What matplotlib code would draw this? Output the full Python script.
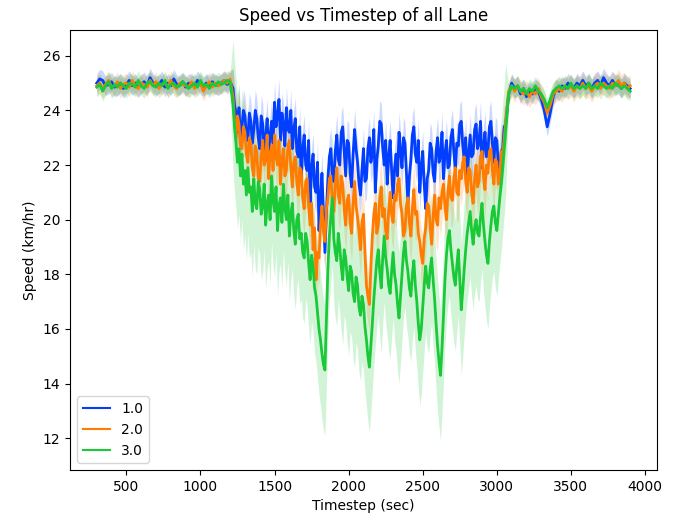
import numpy as np
import matplotlib
matplotlib.use("Agg")
import matplotlib.pyplot as plt
from matplotlib.lines import Line2D

# ---------------- data ----------------
lanes = ["1.0", "2.0", "3.0"]
colors = ["#023eff", "#ff7c00", "#1ac938"]

# free-flow before the jam: 300..1200 s (20 s step)
# congestion: 1220..3060 s (10 s step)
# free-flow after the jam: 3080..3900 s (20 s step)
flat1_t = (300, 1200, 20)
cong_t = (1220, 3060, 10)
flat2_t = (3080, 3900, 20)

blue_flat1 = [25.0, 25.15, 25.1, 24.9, 24.95, 25.05, 24.85, 24.9, 25.0, 24.8,
              24.95, 25.1, 24.9, 25.0, 24.85, 24.95, 25.05, 24.9, 25.2, 25.0,
              24.9, 24.95, 25.1, 24.85, 25.0, 24.9, 25.15, 24.95, 24.9, 25.05,
              24.85, 25.0, 24.95, 24.9, 25.1, 24.95, 24.85, 25.0, 24.9, 25.05,
              24.95, 24.9, 25.0, 25.1, 24.95, 25.05]
blue_cong = [24.8, 24.2, 23.9, 23.2, 24.1, 23.0, 23.4, 24.0, 23.8, 23.1,
             22.9, 23.9, 23.6, 22.8, 23.3, 24.0, 23.7, 23.0, 22.6, 23.8,
             23.5, 22.5, 23.0, 23.7, 22.4, 23.1, 23.6, 22.8, 24.3, 23.4,
             23.8, 24.4, 22.9, 23.9, 23.5, 22.7, 24.1, 23.3, 23.2, 24.0,
             22.6, 23.3, 23.7, 22.5, 22.3, 23.4, 21.4, 22.6, 23.1, 22.0,
             21.8, 22.9, 20.6, 21.9, 22.4, 21.2, 21.0, 22.1, 19.6, 20.8,
             21.7, 20.2, 18.8, 20.3, 21.5, 22.3, 22.6, 21.6, 21.4, 22.5,
             23.1, 22.2, 22.0, 23.2, 23.4, 22.5, 21.6, 22.9, 22.8, 21.7,
             21.2, 22.4, 23.3, 22.6, 22.1, 21.3, 20.9, 21.8, 22.6, 21.4,
             21.5, 22.6, 23.0, 22.1, 22.4, 23.3, 21.0, 22.2, 22.7, 23.6,
             23.5, 22.6, 22.0, 22.9, 21.3, 22.3, 22.9, 21.8, 20.8, 21.9,
             22.4, 21.6, 23.2, 22.5, 21.9, 23.0, 22.8, 21.7, 20.6, 21.6,
             22.2, 23.1, 23.4, 22.4, 22.1, 22.9, 21.0, 21.9, 22.5, 21.3,
             20.4, 21.5, 21.8, 22.8, 22.6, 21.7, 21.4, 22.5, 23.0, 22.1,
             22.3, 23.2, 21.5, 22.4, 22.9, 21.9, 22.0, 23.0, 23.3, 22.5,
             21.8, 22.8, 22.7, 23.5, 23.6, 22.7, 22.2, 23.0, 21.6, 22.4,
             23.1, 22.3, 22.4, 23.3, 23.5, 22.6, 22.8, 23.6, 21.9, 22.7,
             23.2, 22.3, 22.5, 23.4, 23.6, 22.8, 22.1, 23.0, 22.9, 22.0,
             21.5, 22.5, 22.6, 23.4, 23.5]
blue_flat2 = [24.6, 25.0, 24.8, 24.9, 24.6, 24.8, 24.5, 24.7, 24.6, 24.8,
              24.7, 24.4, 24.0, 23.4, 23.9, 24.5, 24.8, 24.7, 24.9, 24.8,
              25.0, 24.9, 24.8, 25.0, 24.9, 25.1, 24.9, 25.0, 24.8, 25.0,
              25.1, 24.9, 25.2, 25.0, 24.9, 25.1, 24.9, 25.0, 24.8, 25.0,
              24.9, 24.8]

orange_flat1 = [24.9, 25.0, 24.8, 24.95, 25.1, 24.85, 24.9, 25.05, 24.8, 24.95,
                25.0, 24.85, 25.1, 24.9, 24.8, 25.0, 24.95, 24.85, 25.1, 24.9,
                25.05, 24.8, 24.95, 25.0, 24.85, 25.1, 24.9, 24.8, 25.0, 24.95,
                24.9, 24.85, 25.05, 24.8, 24.95, 25.0, 24.7, 24.9, 25.05, 24.85,
                25.0, 24.9, 24.95, 25.1, 25.0, 25.15]
orange_cong = [24.5, 23.6, 23.0, 23.8, 23.5, 22.7, 22.6, 23.4, 23.2, 22.4,
               22.1, 23.0, 22.8, 21.9, 21.6, 22.7, 22.5, 21.5, 21.4, 22.3,
               22.9, 22.0, 22.2, 23.1, 21.5, 22.4, 22.7, 21.8, 23.1, 22.3,
               22.0, 22.9, 21.3, 22.2, 22.6, 21.6, 21.8, 22.7, 22.9, 21.9,
               21.2, 22.1, 22.3, 21.4, 20.9, 21.9, 21.8, 20.8, 20.4, 21.4,
               21.5, 20.5, 19.8, 20.6, 18.9, 19.7, 17.8, 18.8, 18.6, 19.8,
               20.5, 19.6, 19.2, 20.4, 20.8, 21.5, 21.6, 20.6, 20.3, 21.3,
               21.9, 20.9, 20.6, 21.6, 21.3, 20.4, 19.8, 20.7, 20.9, 19.9,
               19.5, 20.6, 21.4, 20.5, 20.1, 19.6, 18.9, 19.9, 20.2, 18.8,
               17.6, 17.2, 16.9, 18.3, 19.4, 20.2, 20.6, 19.5, 19.8, 20.8,
               21.2, 20.1, 20.4, 19.6, 19.3, 20.3, 21.0, 20.2, 19.9, 20.9,
               20.7, 21.3, 21.5, 20.6, 20.2, 19.4, 19.6, 20.5, 20.8, 19.9,
               19.4, 20.4, 21.1, 20.2, 20.3, 19.5, 19.2, 18.7, 18.4, 19.3,
               19.7, 20.6, 20.5, 19.8, 19.1, 20.1, 20.9, 20.0, 19.8, 20.8,
               20.4, 21.0, 21.3, 20.5, 20.0, 21.0, 21.6, 20.8, 20.7, 21.5,
               21.9, 21.0, 20.9, 21.8, 21.5, 22.1, 22.3, 21.4, 21.0, 21.9,
               21.8, 21.0, 20.6, 21.5, 22.0, 21.2, 21.4, 22.3, 22.5, 21.6,
               21.1, 22.0, 21.7, 22.5, 22.6, 21.8, 21.3, 22.2, 22.1, 21.3,
               21.6, 22.5, 22.4, 23.0, 23.6]
orange_flat2 = [24.7, 24.9, 24.7, 24.9, 24.7, 24.6, 24.7, 24.5, 24.7, 24.6,
                24.8, 24.5, 24.3, 23.9, 24.2, 24.6, 24.7, 24.8, 24.7, 24.9,
                24.8, 24.9, 24.7, 24.9, 24.8, 25.0, 24.8, 24.9, 24.7, 24.9,
                25.0, 24.8, 25.0, 24.9, 24.8, 25.0, 24.9, 25.1, 24.9, 25.0,
                24.8, 24.9]

green_flat1 = [24.85, 24.95, 24.7, 24.9, 25.05, 24.8, 24.95, 24.85, 25.0, 24.9,
               24.8, 25.0, 24.95, 24.85, 25.1, 24.9, 24.8, 25.0, 25.05, 24.9,
               24.85, 25.0, 24.9, 25.1, 24.8, 24.95, 25.0, 24.85, 24.9, 25.05,
               24.95, 24.8, 24.9, 25.0, 24.85, 25.1, 24.9, 24.95, 24.8, 25.0,
               24.9, 25.05, 24.95, 25.0, 25.1, 25.05]
green_cong = [24.2, 23.4, 22.8, 22.1, 22.6, 21.6, 22.4, 21.3, 21.8, 20.9,
              21.9, 21.0, 21.2, 20.3, 21.5, 20.6, 20.4, 21.4, 21.1, 20.2,
              20.5, 21.3, 19.8, 20.6, 20.9, 20.0, 21.6, 20.7, 20.3, 21.2,
              19.6, 20.5, 20.8, 19.9, 21.3, 20.4, 20.0, 20.9, 19.4, 20.2,
              20.6, 19.6, 19.1, 20.0, 20.2, 19.3, 19.5, 18.8, 18.6, 19.5,
              19.2, 18.4, 17.8, 18.7, 18.3, 17.5, 17.2, 16.6, 16.0, 15.6,
              15.1, 14.7, 14.5, 16.3, 18.2, 19.4, 20.1, 20.8, 19.3, 18.8,
              18.5, 19.5, 19.0, 18.3, 17.8, 18.9, 18.6, 17.9, 17.4, 18.3,
              18.1, 17.3, 17.0, 17.9, 17.6, 16.8, 16.5, 17.2, 16.9, 16.1,
              15.6, 15.0, 14.6, 15.4, 16.2, 17.1, 17.8, 18.5, 18.9, 18.1,
              17.5, 18.6, 19.4, 18.6, 18.2, 17.6, 17.3, 18.1, 18.8, 18.0,
              17.6, 16.9, 16.4, 17.2, 18.0, 18.8, 19.2, 18.5, 18.1, 17.5,
              17.2, 18.0, 18.5, 17.6, 17.0, 16.2, 15.6, 16.0, 16.8, 17.6,
              18.3, 17.7, 17.5, 18.2, 18.6, 17.8, 17.1, 16.2, 15.4, 14.8,
              14.3, 15.3, 16.5, 17.8, 18.7, 19.3, 19.6, 18.9, 18.4, 17.9,
              17.6, 18.3, 18.9, 17.8, 16.7, 17.4, 18.2, 18.9, 19.5, 19.9,
              20.3, 19.6, 19.1, 19.7, 20.0, 19.5, 19.4, 20.1, 20.6, 19.8,
              19.2, 18.7, 18.4, 19.2, 19.8, 20.3, 20.5, 19.9, 19.6, 20.2,
              20.8, 21.3, 21.9, 22.6, 23.3]
green_flat2 = [24.6, 24.9, 24.8, 24.9, 24.7, 24.8, 24.6, 24.8, 24.7, 24.9,
               24.7, 24.6, 24.4, 24.1, 24.4, 24.7, 24.8, 24.9, 24.8, 24.9,
               24.8, 25.0, 24.8, 24.9, 24.8, 24.9, 24.8, 25.0, 24.8, 24.9,
               24.8, 25.0, 24.9, 24.8, 24.9, 24.8, 25.0, 24.9, 24.8, 24.9,
               24.8, 24.7]

# confidence-band half widths per regime (free flow, congestion, free flow)
blue_spread = [0.35, 0.75, 0.35]
orange_spread = [0.35, 1.0, 0.4]
green_spread = [0.35, 2.4, 0.35]

# ---------------- build ----------------
series = [
    (blue_flat1, blue_cong, blue_flat2, blue_spread),
    (orange_flat1, orange_cong, orange_flat2, orange_spread),
    (green_flat1, green_cong, green_flat2, green_spread),
]


def seg_x(spec, n):
    a, b, s = spec
    x = np.arange(a, b + 1, s)
    return x[:n]


fig = plt.figure(figsize=(6.8, 5.23), dpi=100)
ax = fig.add_axes([0.103, 0.101, 0.863, 0.842])

handles = []
for lane, col, (f1, cg, f2, sp) in zip(lanes, colors, series):
    parts = [(flat1_t, f1), (cong_t, cg), (flat2_t, f2)]
    xs, ys, hs = [], [], []
    for (spec, vals), w in zip(parts, sp):
        xx = seg_x(spec, len(vals))
        vv = np.asarray(vals[:len(xx)], dtype=float)
        xs.append(xx)
        ys.append(vv)
        hs.append(np.full(len(xx), w))
    x = np.concatenate(xs)
    y = np.concatenate(ys)
    half = np.concatenate(hs)
    ax.plot(x, y, color=col, lw=2.0)
    ax.fill_between(x, y - half, y + half, color=col, alpha=0.2, linewidth=0)
    handles.append(Line2D([], [], color=col, lw=1.5, label=lane))

ax.set_ylim(10.83, 26.95)
ax.set_xticks([500, 1000, 1500, 2000, 2500, 3000, 3500, 4000])
ax.set_yticks([12, 14, 16, 18, 20, 22, 24, 26])
ax.set_title("Speed vs Timestep of all Lane")
ax.set_xlabel("Timestep (sec)")
ax.set_ylabel("Speed (km/hr)")
ax.legend(handles=handles, loc="lower left")

fig.savefig("out.png", dpi=100)
